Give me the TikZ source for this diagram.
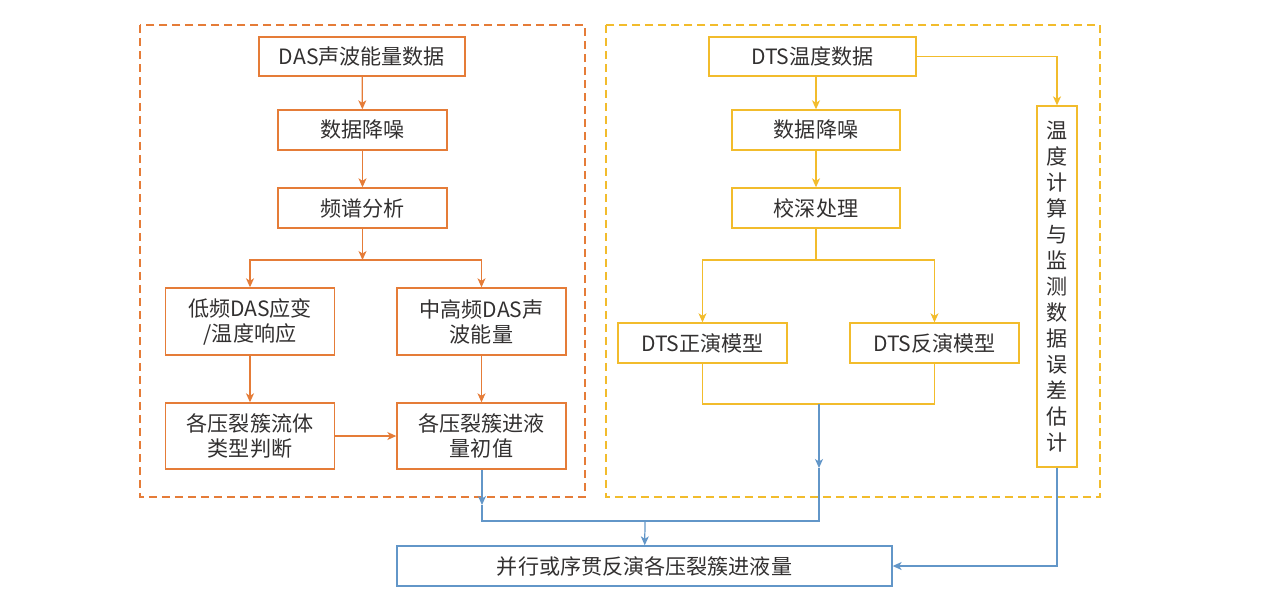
\documentclass[tikz,border=0pt]{standalone}
\usepackage{fontspec}
\setmainfont{Noto Sans CJK SC}
\usepackage{tikz}
\usetikzlibrary{arrows.meta}

\definecolor{dasorange}{RGB}{229,124,56}
\definecolor{dtsyellow}{RGB}{242,188,44}
\definecolor{outblue}{RGB}{98,150,200}
\definecolor{txtgray}{RGB}{50,48,48}

\tikzset{
  basebox/.style={line width=0.8pt, minimum width=3.38cm, minimum height=0.8cm,
    inner sep=0pt, align=center, text=txtgray, font=\fontsize{12}{14.2}\selectfont},
  dasbox/.style={basebox, draw=dasorange},
  dtsbox/.style={basebox, draw=dtsyellow},
  outbox/.style={basebox, draw=outblue},
  dasline/.style={draw=dasorange, line width=0.7pt},
  dtsline/.style={draw=dtsyellow, line width=0.7pt},
  outline/.style={draw=outblue, line width=0.7pt},
  frame/.style={line width=0.8pt, dash pattern=on 0.16cm off 0.1cm}
}

\begin{document}
\begin{tikzpicture}
         [x=0.02cm, y=-0.02cm, >={Stealth[length=1.8mm,width=1.6mm,inset=0.5mm]}]
         \useasboundingbox (0,0) rectangle (1269,600);

         % dashed frames
         \draw[frame, draw=dasorange] (140,25) rectangle (585,497);
         \draw[frame, draw=dtsyellow] (606,25) rectangle (1100,497);

         % DAS side
         \node[dasbox, minimum width=4.12cm, minimum height=0.78cm] (das) at (362,56.5) {DAS声波能量数据};
         \node[dasbox] (dnoise) at (362.5,130) {数据降噪};
         \node[dasbox] (spec) at (362.5,208) {频谱分析};
         \node[dasbox, minimum height=1.34cm] (low) at (250,321.5) {低频DAS应变\\/温度响应};
         \node[dasbox, minimum height=1.34cm] (high) at (481.5,321.5) {中高频DAS声\\波能量};
         \node[dasbox, minimum height=1.32cm] (ftype) at (250,436) {各压裂簇流体\\类型判断};
         \node[dasbox, minimum height=1.32cm] (init) at (481.5,436) {各压裂簇进液\\量初值};
         \coordinate (dsplit) at (362.5,260);

         \draw[dasline,->] (das) -- (dnoise);
         \draw[dasline,->] (dnoise) -- (spec);
         \draw[dasline,->] (spec) -- (dsplit);
         \draw[dasline,->] (dsplit) -| (low);
         \draw[dasline,->] (dsplit) -| (high);
         \draw[dasline,->] (low) -- (ftype);
         \draw[dasline,->] (high) -- (init);
         \draw[dasline,->] (ftype) -- (init);

         % DTS side
         \node[dtsbox, minimum width=4.14cm, minimum height=0.78cm] (dts) at (812.5,56.5) {DTS温度数据};
         \node[dtsbox, minimum width=3.36cm] (tnoise) at (816,130) {数据降噪};
         \node[dtsbox, minimum width=3.36cm] (depth) at (816,208) {校深处理};
         \node[dtsbox] (fwd) at (702.5,343) {DTS正演模型};
         \node[dtsbox] (inv) at (934.5,343) {DTS反演模型};
         \node[dtsbox, minimum width=0.8cm, minimum height=7.22cm,
               font=\fontsize{12}{14.8}\selectfont] (err) at (1057,286.5)
               {温\\度\\计\\算\\与\\监\\测\\数\\据\\误\\差\\估\\计};
         \coordinate (tsplit) at (816,260);
         \coordinate (tjoin) at (819,404);

         \draw[dtsline,->] (tnoise.north |- dts.south) -- (tnoise);
         \draw[dtsline,->] (tnoise) -- (depth);
         \draw[dtsline] (depth) -- (tsplit);
         \draw[dtsline,->] (tsplit) -| (fwd);
         \draw[dtsline,->] (tsplit) -| (inv);
         \draw[dtsline] (fwd) |- (tjoin) -| (inv);
         \draw[dtsline,->] (dts) -| (err);

         % output
         \node[outbox, minimum width=9.9cm] (final) at (644.5,566) {并行或序贯反演各压裂簇进液量};
         \coordinate (tmid) at (819,468);
         \coordinate (lmid) at (482,505);
         \coordinate (lcorner) at (482,521);
         \coordinate (rcorner) at (819,521);
         \coordinate (omid) at (645,521);

         \draw[outline,->] (tjoin) -- (tmid);
         \draw[outline,->] (init.south -| lmid) -- (lmid);
         \draw[outline] (lmid) -- (lcorner) -- (rcorner) -- (tmid);
         \draw[outline,->] (omid) -- (final);
         \draw[outline,->] (err) |- (final);
      \end{tikzpicture}
\end{document}
